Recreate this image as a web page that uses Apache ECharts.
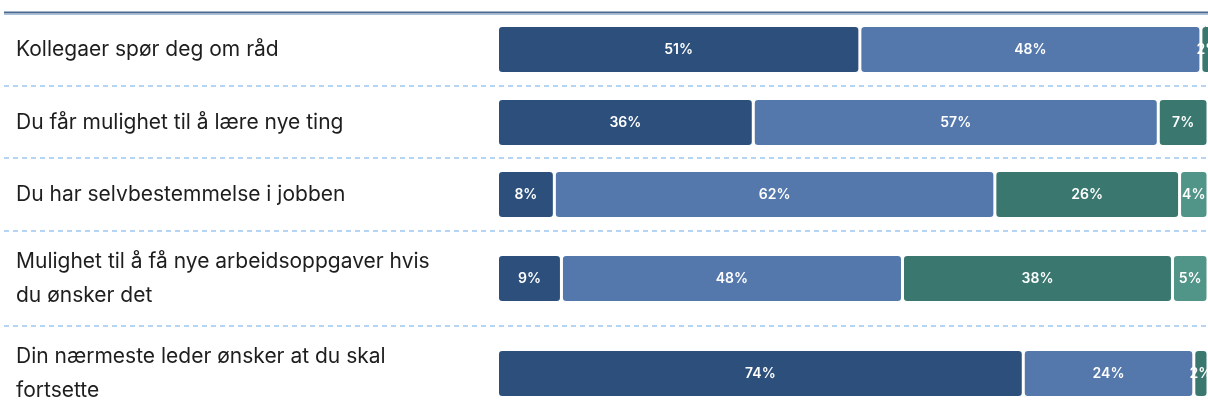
<!DOCTYPE html>
<html>
<head>
<meta charset="utf-8">
<script src="https://cdn.jsdelivr.net/npm/echarts@6/dist/echarts.min.js"></script>
<style>html,body{margin:0;padding:0;background:#fff;}#c{width:1208px;height:412px;}</style>
</head>
<body>
<div id="c"></div>
<script>
const categories = [
  'Kollegaer spør deg om råd',
  'Du får mulighet til å lære nye ting',
  'Du har selvbestemmelse i jobben',
  'Mulighet til å få nye arbeidsoppgaver hvis\ndu ønsker det',
  'Din nærmeste leder ønsker at du skal\nfortsette'
];
const seriesA = [51, 36, 8, 9, 74];
const seriesB = [48, 57, 62, 48, 24];
const seriesC = [2, 7, 26, 38, 2];
const seriesD = [0, 0, 4, 5, 0];

const allSeries = [seriesA, seriesB, seriesC, seriesD];
const colors = ['#2c4f7c', '#5477ac', '#3a786f', '#519488'];
const rowTops = [25.5, 98.5, 170.5, 254.5, 349.5];
const barH = 48;

const chart = echarts.init(document.getElementById('c'), null, {renderer: 'canvas'});

const grids = [], xAxes = [], yAxes = [], series = [];
categories.forEach((cat, i) => {
  grids.push({left: 497.5, width: 712, top: rowTops[i], height: barH, containLabel: false});
  xAxes.push({type: 'value', gridIndex: i, min: 0, max: 100, show: false});
  yAxes.push({
    type: 'category', gridIndex: i, data: [cat],
    axisLine: {show: false}, axisTick: {show: false}, splitLine: {show: false},
    axisLabel: {
      align: 'left', margin: 481.5, color: '#1e1e1e', fontSize: 21, lineHeight: 34,
      fontFamily: 'Inter, Roboto, sans-serif'
    }
  });
  allSeries.forEach((arr, k) => {
    series.push({
      type: 'bar', xAxisIndex: i, yAxisIndex: i, stack: 'row' + i,
      barWidth: barH, clip: false,
      data: [arr[i] || null],
      itemStyle: {color: colors[k], borderColor: '#ffffff', borderWidth: 1.5, borderRadius: 4},
      label: {
        show: true, position: 'inside', color: '#fff', fontSize: 14, fontWeight: 600,
        fontFamily: 'Inter, Roboto, sans-serif',
        formatter: p => p.value ? p.value + '%' : ''
      },
      silent: true
    });
  });
});

const sepY = [86, 158, 231, 326];
const graphic = [
  {type: 'line', shape: {x1: 4, y1: 12.5, x2: 1208, y2: 12.5}, style: {stroke: '#4a6a92', lineWidth: 2}},
  {type: 'line', shape: {x1: 4, y1: 14.5, x2: 1208, y2: 14.5}, style: {stroke: '#a9c0da', lineWidth: 1}}
];
sepY.forEach(y => graphic.push({
  type: 'line', shape: {x1: 4, y1: y, x2: 1208, y2: y},
  style: {stroke: '#9ec8f2', lineWidth: 1.5, lineDash: [5, 4]}
}));

chart.setOption({
  animation: false,
  grid: grids, xAxis: xAxes, yAxis: yAxes, series: series, graphic: graphic
});
</script>
</body>
</html>
